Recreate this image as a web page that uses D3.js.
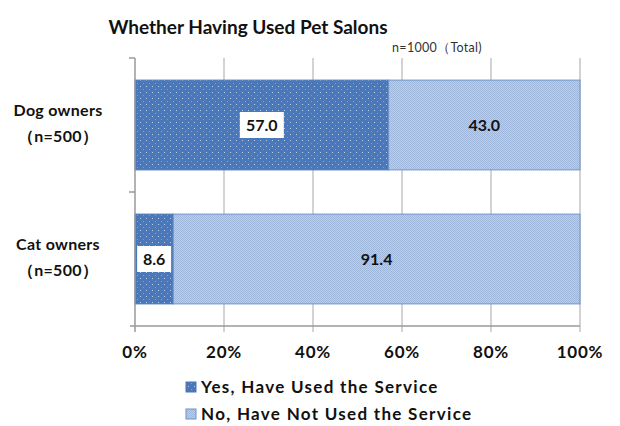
<!DOCTYPE html>
<html><head><meta charset="utf-8">
<script src="https://cdn.jsdelivr.net/npm/d3@7"></script>
<style>body{margin:0;background:#fff;} text{font-family:"Century Gothic",Lato,"DejaVu Sans",sans-serif;}</style>
</head><body><svg id="c" width="620" height="426"></svg>
<script>
const categories = ["Dog owners", "Cat owners"];
const categorySubs = ["（n=500）", "（n=500）"];
const seriesNames = ["Yes, Have Used the Service", "No, Have Not Used the Service"];
const yesValues = [57.0, 8.6];
const noValues = [43.0, 91.4];
const xTicks = [0, 20, 40, 60, 80, 100];
const titleText = "Whether Having Used Pet Salons";
const noteText = "n=1000（Total)";

(function(){
const svg = d3.select("#c");
const defs = svg.append("defs");
const dk = "#4a78b8";
const p1 = defs.append("pattern").attr("id","pDark").attr("width",6).attr("height",6).attr("patternUnits","userSpaceOnUse");
p1.append("rect").attr("width",6).attr("height",6).attr("fill",dk);
p1.append("rect").attr("x",2).attr("y",2).attr("width",1).attr("height",1).attr("fill","#b8ccea");
p1.append("rect").attr("x",5).attr("y",5).attr("width",1).attr("height",1).attr("fill","#7e9fd0");
const p2 = defs.append("pattern").attr("id","pLight").attr("width",2).attr("height",2).attr("patternUnits","userSpaceOnUse");
p2.append("rect").attr("width",2).attr("height",2).attr("fill","#bccde8");
p2.append("rect").attr("width",1).attr("height",1).attr("fill","#a0b7dc");
p2.append("rect").attr("x",1).attr("y",1).attr("width",1).attr("height",1).attr("fill","#a0b7dc");

const L = 135, R = 580, T = 58, B = 326;
const x = d3.scaleLinear().domain([0,100]).range([L,R]);
const y = d3.scaleBand().domain(categories).range([T,B]).paddingInner(0.33).paddingOuter(0.165);

svg.append("g").selectAll("line").data(xTicks.slice(1)).join("line")
  .attr("x1",d=>x(d)).attr("x2",d=>x(d)).attr("y1",T).attr("y2",B+6)
  .attr("stroke","#c4c4c4").attr("stroke-width",1.5);

const rows = categories.map((c,i)=>({c, yes:yesValues[i], no:noValues[i]}));
const g = svg.append("g");
rows.forEach(r=>{
  g.append("rect").attr("x",x(0)).attr("y",y(r.c)).attr("width",x(r.yes)-x(0)).attr("height",y.bandwidth())
   .attr("fill","url(#pDark)").attr("stroke","#4a78b8").attr("stroke-width",1);
  g.append("rect").attr("x",x(r.yes)).attr("y",y(r.c)).attr("width",x(r.yes+r.no)-x(r.yes)).attr("height",y.bandwidth())
   .attr("fill","url(#pLight)").attr("stroke","#6f93c8").attr("stroke-width",1);
});

svg.append("line").attr("x1",L).attr("x2",L).attr("y1",T).attr("y2",B+6).attr("stroke","#9a9a9a").attr("stroke-width",1.5);
svg.append("line").attr("x1",L-5).attr("x2",R).attr("y1",B).attr("y2",B).attr("stroke","#9a9a9a").attr("stroke-width",1.5);
[T, (y(categories[0])+y.bandwidth()+y(categories[1]))/2].forEach(v=>{
  svg.append("line").attr("x1",L-6).attr("x2",L).attr("y1",v).attr("y2",v).attr("stroke","#9a9a9a").attr("stroke-width",1.5);
});

svg.append("g").selectAll("text").data(xTicks).join("text")
  .attr("x",d=>x(d)).attr("y",358).attr("text-anchor","middle")
  .attr("font-size",17).attr("letter-spacing",0.8).attr("font-weight","bold").attr("fill","#111")
  .text(d=>d+"%");

categories.forEach((c,i)=>{
  const cy = y(c)+y.bandwidth()/2;
  svg.append("text").attr("x",58).attr("y",cy-9).attr("text-anchor","middle").attr("font-size",16).attr("letter-spacing",0.3).attr("font-weight","bold").attr("fill","#111").text(c);
  svg.append("text").attr("x",58).attr("y",cy+17).attr("text-anchor","middle").attr("font-size",16).attr("letter-spacing",0.3).attr("font-weight","bold").attr("fill","#111").text(categorySubs[i]);
});

rows.forEach(r=>{
  const cy = y(r.c)+y.bandwidth()/2;
  const cx1 = (x(0)+x(r.yes))/2;
  const w = r.yes>=10?44:34;
  svg.append("rect").attr("x",cx1-w/2).attr("y",cy-13).attr("width",w).attr("height",26).attr("fill","#fff");
  svg.append("text").attr("x",cx1).attr("y",cy+6).attr("text-anchor","middle").attr("font-size",16).attr("font-weight","bold").attr("fill","#111").text(r.yes.toFixed(1));
  const cx2 = (x(r.yes)+x(100))/2;
  svg.append("text").attr("x",cx2).attr("y",cy+6).attr("text-anchor","middle").attr("font-size",16).attr("font-weight","bold").attr("fill","#111").text(r.no.toFixed(1));
});

svg.append("text").attr("x",248).attr("y",34).attr("text-anchor","middle").attr("font-size",19).attr("font-weight","bold").attr("fill","#111").text(titleText);
svg.append("text").attr("x",482).attr("y",52).attr("text-anchor","end").attr("font-size",12.5).attr("letter-spacing",0.3).attr("fill","#333").text(noteText);

const fills = ["url(#pDark)","url(#pLight)"];
seriesNames.forEach((s,i)=>{
  const ly = 387 + i*27;
  svg.append("rect").attr("x",186).attr("y",ly-5).attr("width",10).attr("height",10).attr("fill",fills[i]).attr("stroke",i?"#6f93c8":"#4a78b8");
  svg.append("text").attr("x",201).attr("y",ly+6).attr("font-size",17).attr("letter-spacing",1.3).attr("font-weight","bold").attr("fill","#111").text(s);
});
})();
</script></body></html>
